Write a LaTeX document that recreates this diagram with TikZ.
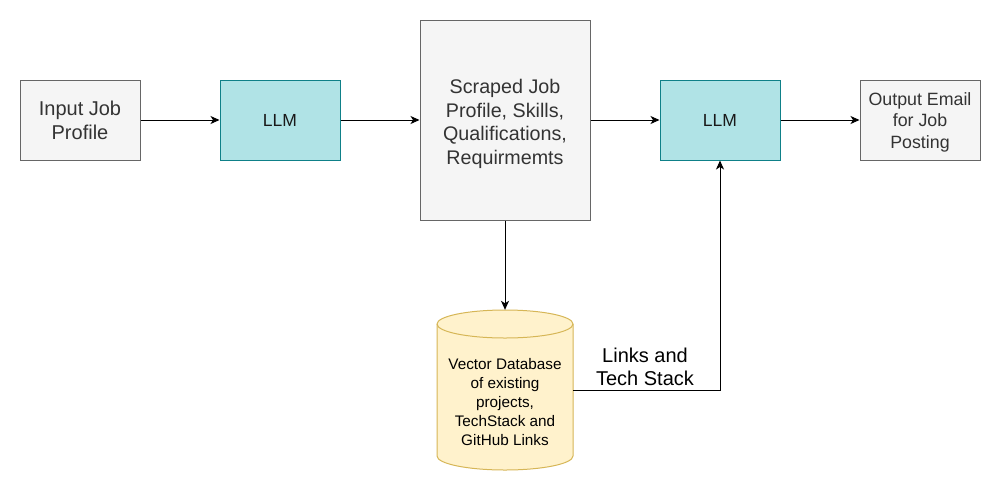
\documentclass[tikz,border=0pt]{standalone}
\usepackage{fontspec}
\setmainfont{Liberation Sans}
\usetikzlibrary{arrows.meta}
\definecolor{grayfill}{HTML}{F5F5F5}
\definecolor{graystroke}{HTML}{666666}
\definecolor{graytext}{HTML}{333333}
\definecolor{tealfill}{HTML}{B0E3E6}
\definecolor{tealstroke}{HTML}{0E8088}
\definecolor{dbfill}{HTML}{FFF2CC}
\definecolor{dbstroke}{HTML}{D6B656}
\tikzset{
  graybox/.style={draw=graystroke, fill=grayfill, text=graytext, align=center, inner sep=0pt, minimum width=120pt, minimum height=80pt, line width=1pt},
  llmbox/.style={draw=tealstroke, fill=tealfill, text=black!90, align=center, inner sep=0pt, minimum width=120pt, minimum height=80pt, line width=1pt, font=\fontsize{17.5}{21}\selectfont},
  boxtext/.style={align=center, inner sep=0pt, text=graytext},
  flow/.style={-{Stealth[length=9pt,width=8pt,inset=2.5pt]}, line width=1pt, black},
}
\begin{document}
\begin{tikzpicture}[x=1pt,y=-1pt]
\useasboundingbox (0,0) rectangle (1001,491);
\node[graybox, font=\fontsize{20}{24}\selectfont] (input) at (80,120) {Input Job\\Profile};
\node[llmbox] (llm1) at (280,120) {LLM};
\node[graybox, minimum width=170pt, minimum height=200pt] (scraped) at (505,120) {};
\node[boxtext, font=\fontsize{19.7}{23.7}\selectfont] (scrapedtext) at (505,124) {Scraped Job\\Profile, Skills,\\Qualifications,\\Requirmemts};
\node[llmbox] (llm2) at (720,120) {LLM};
\node[graybox] (output) at (920,120) {};
\node[boxtext, font=\fontsize{17.8}{21.4}\selectfont] (outputtext) at (920,122) {Output Email\\for Job\\Posting};
% database cylinder
\fill[dbfill] (437,324) -- (437,456) arc[start angle=180,end angle=0,x radius=68,y radius=14] -- (573,324) arc[start angle=0,end angle=-180,x radius=68,y radius=14] -- cycle;
\draw[dbstroke, line width=1pt] (437,324) -- (437,456) arc[start angle=180,end angle=0,x radius=68,y radius=14] -- (573,324) arc[start angle=0,end angle=-180,x radius=68,y radius=14];
\draw[dbstroke, line width=1pt] (437,324) arc[start angle=180,end angle=0,x radius=68,y radius=14];
\node[minimum width=136pt, minimum height=160pt, inner sep=0pt] (db) at (505,390) {};
\node[align=center, inner sep=0pt, font=\fontsize{15.3}{19}\selectfont] (dbtext) at (505,402) {Vector Database\\of existing\\projects,\\TechStack and\\GitHub Links};
\node[align=center, inner sep=0pt, font=\fontsize{20}{23.5}\selectfont] (lbl) at (645,367) {Links and\\Tech Stack};
% connectors
\draw[flow] (input) -- (llm1);
\draw[flow] (llm1) -- (scraped);
\draw[flow] (scraped) -- (llm2);
\draw[flow] (llm2) -- (output);
\draw[flow] (scraped) -- (db);
\draw[flow] (db.east) -| (llm2.south);
\end{tikzpicture}
\end{document}
